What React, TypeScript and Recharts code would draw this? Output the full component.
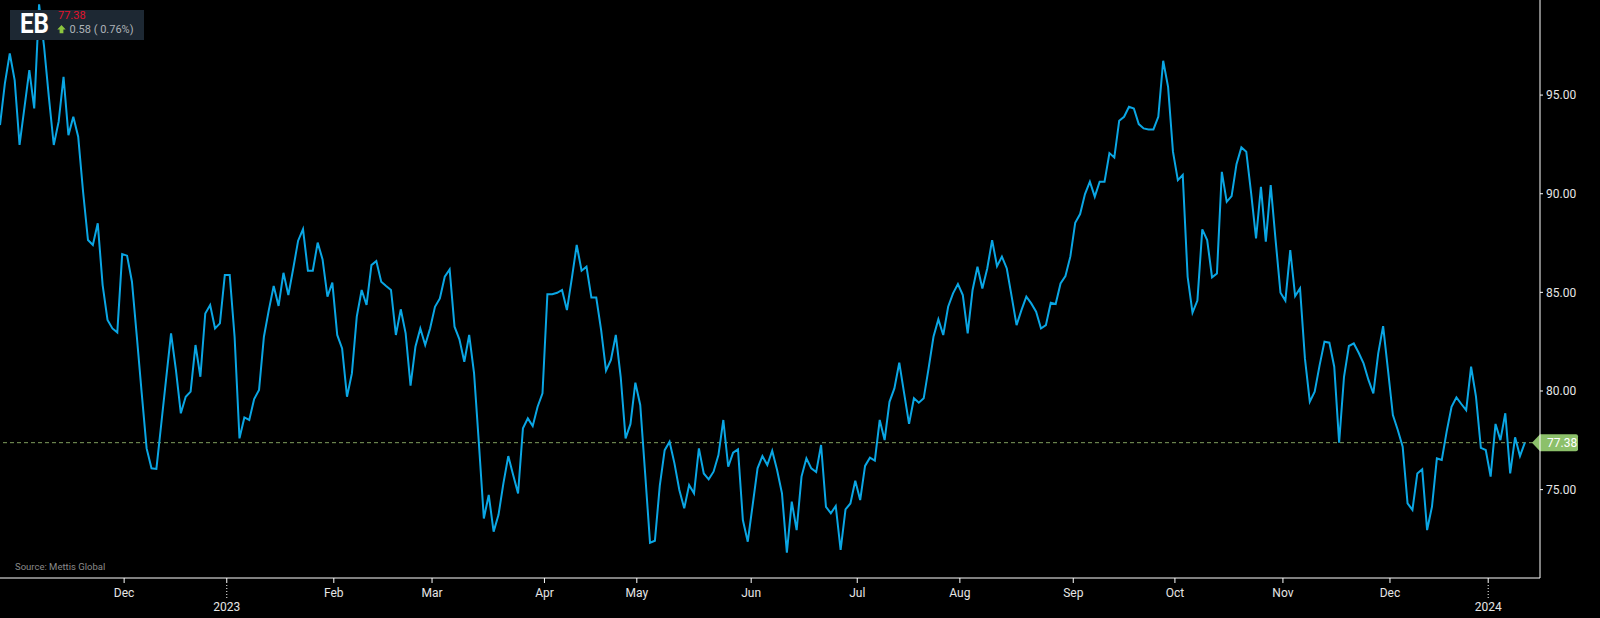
import { LineChart, Line, XAxis, YAxis, ReferenceLine } from "recharts";

// closing prices, one per trading day (late Oct 2022 -> mid Jan 2024)
const PRICES_2022 = [
  93.48, 95.59, 97.11, 95.76, 92.47, 94.37, 96.27, 94.32, 99.6, 97.5,
  94.9, 92.47, 93.65, 95.93, 92.97, 93.9, 92.89, 90.1, 87.65, 87.4,
  88.5, 85.37, 83.6, 83.17, 82.97, 86.94, 86.86, 85.54, 82.75, 79.88,
  77.09, 76.08, 76.05, 78.34, 80.64, 82.92, 81.06, 78.87, 79.71, 79.97,
  82.33, 80.72, 83.93, 84.36, 83.17, 83.43, 85.88,
];
const PRICES_2023 = [
  85.88, 82.75, 77.6, 78.66, 78.53, 79.59, 80.05, 82.75, 84.1, 85.32,
  84.31, 85.99, 84.86, 86.21, 87.62, 88.21, 86.1, 86.1, 87.52, 86.67,
  84.78, 85.49, 82.84, 82.16, 79.71, 80.89, 83.77, 85.12, 84.36, 86.38,
  86.59, 85.54, 85.32, 85.12, 82.84, 84.14, 82.92, 80.27, 82.24, 83.17,
  82.33, 83.17, 84.27, 84.69, 85.79, 86.16, 83.26, 82.62, 81.48, 82.84,
  80.89, 77.3, 73.54, 74.73, 72.87, 73.72, 75.32, 76.7, 75.74, 74.81,
  78.11, 78.61, 78.22, 79.2, 79.88, 84.91, 84.91, 84.98, 85.12, 84.1,
  85.71, 87.4, 86.1, 86.3, 84.74, 84.74, 83.09, 81.03, 81.57, 82.84,
  80.72, 77.6, 78.33, 80.42, 79.29, 75.83, 72.31, 72.41, 75.2, 77.0,
  77.43, 76.33, 74.98, 74.05, 75.23, 74.81, 77.09, 75.82, 75.52, 75.91,
  76.75, 78.53, 76.16, 76.87, 77.04, 73.46, 72.36, 74.22, 76.08, 76.7,
  76.25, 76.97, 75.99, 74.81, 71.8, 74.39, 72.95, 75.66, 76.59, 76.08,
  75.89, 77.26, 74.13, 73.8, 74.17, 71.94, 74.0, 74.3, 75.45, 74.47,
  76.2, 76.62, 76.47, 78.53, 77.51, 79.45, 80.13, 81.43, 79.88, 78.33,
  79.63, 79.41, 79.63, 81.15, 82.75, 83.63, 82.84, 84.27, 84.95, 85.42,
  84.86, 82.92, 85.12, 86.3, 85.2, 86.21, 87.65, 86.33, 86.81, 86.21,
  84.78, 83.34, 84.1, 84.78, 84.44, 84.02, 83.17, 83.34, 84.47, 84.41,
  85.45, 85.83, 86.81, 88.53, 88.97, 89.98, 90.61, 89.85, 90.61, 90.61,
  92.06, 91.84, 93.7, 93.9, 94.41, 94.32, 93.53, 93.31, 93.26, 93.26,
  93.9, 96.74, 95.42, 92.13, 90.69, 90.95, 85.79, 83.97, 84.58, 88.19,
  87.65, 85.76, 85.96, 91.11, 89.59, 89.88, 91.5, 92.35, 92.13, 90.02,
  87.73, 90.35, 87.57, 90.44, 87.65, 84.98, 84.58, 87.14, 84.81, 85.2,
  81.65, 79.46, 79.96, 81.3, 82.5, 82.45, 81.23, 77.38, 80.72, 82.28,
  82.41, 81.94, 81.4, 80.56, 79.88, 81.91, 83.29, 81.06, 78.78, 78.02,
  77.18, 74.3, 73.97, 75.82, 76.03, 72.95, 74.14, 76.58, 76.5, 77.94,
  79.2, 79.68, 79.34, 79.03, 81.23, 79.71, 77.12, 77.01,
];
const PRICES_2024 = [75.66, 78.33, 77.51, 78.87, 75.82, 77.65, 76.7, 77.38];

// month ticks, placed on the trading-day index
const TICK_LABELS = ["Dec", "2023", "Feb", "Mar", "Apr", "May", "Jun", "Jul", "Aug", "Sep", "Oct", "Nov", "Dec", "2024"];
const TICK_POS = [25.4, 46.4, 68.3, 88.4, 111.4, 130.3, 153.7, 175.4, 196.4, 219.6, 240.4, 262.5, 284.4, 304.5];
const Y_TICKS = [75, 80, 85, 90, 95];

const LAST_PRICE = 77.38;
const CHANGE = "0.58 ( 0.76%)";
const SYMBOL = "EB";

const data = [...PRICES_2022, ...PRICES_2023, ...PRICES_2024].map((v, i) => ({ i, price: v }));

const FONT = "Roboto, 'Noto Sans', sans-serif";

function MonthTick(props: any) {
  const { x, y, payload } = props;
  const label = TICK_LABELS[TICK_POS.indexOf(payload.value)] ?? "";
  if (/^\d{4}$/.test(label)) {
    return (
      <g>
        <line x1={x} x2={x} y1={y - 3} y2={y + 10} stroke="#fff" strokeDasharray="1 2" />
        <text x={x} y={y + 23} textAnchor="middle" fill="#e6e6e6" fontSize={12} fontFamily={FONT}>
          {label}
        </text>
      </g>
    );
  }
  return (
    <text x={x} y={y} dy="0.71em" textAnchor="middle" fill="#e6e6e6" fontSize={12} fontFamily={FONT}>
      {label}
    </text>
  );
}

function PriceTag(props: any) {
  const vb = props.viewBox || {};
  const tip = vb.x + vb.width - 8;
  const y = vb.y;
  return (
    <g>
      <path
        d={`M${tip},${y} L${tip + 8},${y - 8.5} L${tip + 44},${y - 8.5} Q${tip + 46},${y - 8.5} ${tip + 46},${y - 6.5} L${tip + 46},${y + 6.5} Q${tip + 46},${y + 8.5} ${tip + 44},${y + 8.5} L${tip + 8},${y + 8.5} Z`}
        fill="#8cc06a"
      />
      <text x={tip + 15} y={y + 4.3} fill="#fff" fontSize={12} fontFamily={FONT}>
        {LAST_PRICE.toFixed(2)}
      </text>
    </g>
  );
}

export default function App() {
  return (
    <div style={{ position: "absolute", left: 0, top: 0, width: 1600, height: 618, background: "#000" }}>
      <LineChart width={1600} height={618} data={data} margin={{ top: 0, right: 0, bottom: 0, left: 0 }}>
        <XAxis
          type="number"
          dataKey="i"
          domain={[0, 315.1]}
          allowDataOverflow
          ticks={TICK_POS}
          interval={0}
          height={40}
          tickSize={5}
          tickMargin={5}
          axisLine={{ stroke: "#fff" }}
          tickLine={{ stroke: "#fff" }}
          tick={<MonthTick />}
        />
        <YAxis
          orientation="right"
          domain={[70.52, 99.82]}
          allowDataOverflow
          ticks={Y_TICKS}
          width={60}
          tickSize={3}
          tickMargin={3}
          axisLine={{ stroke: "#fff" }}
          tickLine={{ stroke: "#fff" }}
          tick={{ fill: "#e6e6e6", fontSize: 12, fontFamily: FONT, textAnchor: "start" }}
          tickFormatter={(v: number) => v.toFixed(2)}
        />
        <ReferenceLine
          y={LAST_PRICE}
          stroke="#7f9e5e"
          strokeDasharray="4 3"
          label={(p: any) => <PriceTag {...p} />}
        />
        <Line
          type="linear"
          dataKey="price"
          stroke="#0aa6e4"
          strokeWidth={2}
          dot={false}
          activeDot={false}
          isAnimationActive={false}
        />
      </LineChart>
      <svg width={1600} height={618} style={{ position: "absolute", left: 0, top: 0, pointerEvents: "none" }}>
        <rect x={10} y={10} width={134} height={30} fill="#1d2833" />
        <text x={20} y={33.3} fill="#fff" fontSize={27} fontWeight={700} fontFamily={FONT} textLength={29} lengthAdjust="spacingAndGlyphs">
          {SYMBOL}
        </text>
        <text x={58} y={19.3} fill="#e3132d" fontSize={11} fontFamily={FONT}>
          {LAST_PRICE.toFixed(2)}
        </text>
        <path d="M61.5,25 L65.7,29.5 L63.4,29.5 L63.4,33.3 L59.6,33.3 L59.6,29.5 L57.3,29.5 Z" fill="#8cc63e" />
        <text x={69.5} y={33.3} fill="#aeb3b8" fontSize={11} fontFamily={FONT} textLength={64} lengthAdjust="spacingAndGlyphs">
          {CHANGE}
        </text>
        <text x={15} y={570.4} fill="#8a8a8a" fontSize={9.5} fontFamily={FONT}>
          Source: Mettis Global
        </text>
      </svg>
    </div>
  );
}
